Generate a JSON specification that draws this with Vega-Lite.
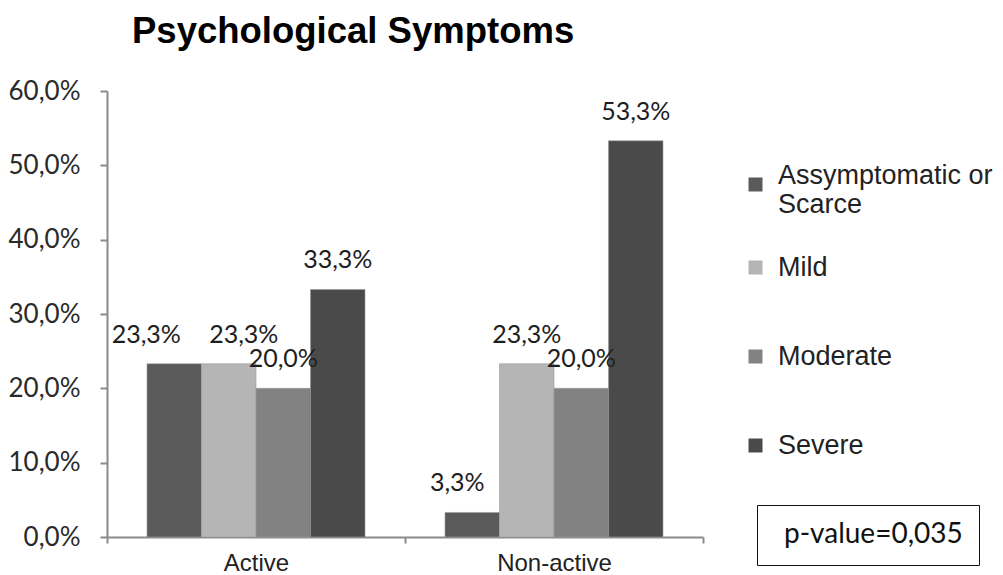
{
  "$schema": "https://vega.github.io/schema/vega-lite/v6.json",
  "width": 596,
  "height": 446,
  "autosize": {"type": "none"},
  "padding": {"left": 107, "top": 91, "right": 300, "bottom": 38},
  "background": "white",
  "title": {
    "text": "Psychological Symptoms",
    "anchor": "start",
    "frame": "group",
    "dx": 25,
    "offset": 28,
    "font": "Liberation Sans",
    "fontSize": 36.5,
    "fontWeight": "bold",
    "color": "black"
  },
  "datasets": {
    "bars": [
      {"group": "Active", "symptom": "Assymptomatic or Scarce", "pct": 0.233},
      {"group": "Active", "symptom": "Mild", "pct": 0.233},
      {"group": "Active", "symptom": "Moderate", "pct": 0.2},
      {"group": "Active", "symptom": "Severe", "pct": 0.333},
      {"group": "Non-active", "symptom": "Assymptomatic or Scarce", "pct": 0.033},
      {"group": "Non-active", "symptom": "Mild", "pct": 0.233},
      {"group": "Non-active", "symptom": "Moderate", "pct": 0.2},
      {"group": "Non-active", "symptom": "Severe", "pct": 0.533}
    ],
    "stats": [{"note": "p-value=0,035"}]
  },
  "layer": [
    {
      "data": {"name": "bars"},
      "mark": {"type": "bar", "stroke": "#9a9a9a", "strokeWidth": 0.6},
      "encoding": {
        "x": {
          "field": "group", "type": "nominal",
          "scale": {"paddingInner": 0, "paddingOuter": 0},
          "axis": {
            "title": null, "labelAngle": 0, "tickBand": "extent",
            "domainColor": "#8a8a8a", "domainWidth": 2, "tickColor": "#8a8a8a", "tickWidth": 2, "tickSize": 6,
            "labelFont": "Liberation Sans", "labelFontSize": 24, "labelColor": "#222222", "labelPadding": 8
          }
        },
        "xOffset": {
          "field": "symptom",
          "sort": ["Assymptomatic or Scarce", "Mild", "Moderate", "Severe"],
          "scale": {"paddingInner": 0, "paddingOuter": 0.734}
        },
        "y": {
          "field": "pct", "type": "quantitative",
          "scale": {"domain": [0, 0.6]},
          "axis": {
            "title": null, "format": ".1%", "values": [0, 0.1, 0.2, 0.3, 0.4, 0.5, 0.6], "grid": false,
            "domainColor": "#8a8a8a", "domainWidth": 2, "tickColor": "#8a8a8a", "tickWidth": 2, "tickSize": 7,
            "labelFont": "Lato", "labelFontSize": 26, "labelColor": "#2a2a2a", "labelPadding": 20
          }
        },
        "color": {
          "field": "symptom", "type": "nominal",
          "scale": {
            "domain": ["Assymptomatic or Scarce", "Mild", "Moderate", "Severe"],
            "range": ["#5a5a5a", "#b5b5b5", "#828282", "#4a4a4a"]
          },
          "legend": {
            "title": null, "orient": "none", "legendX": 635, "legendY": 163,
            "values": ["Mild", "Moderate", "Severe"],
            "symbolType": "square", "symbolSize": 196, "symbolStrokeWidth": 0,
            "labelFont": "Liberation Sans", "labelFontSize": 27, "labelColor": "#222222",
            "labelLimit": 400, "labelOffset": 9, "rowPadding": 61, "padding": 0
          }
        }
      }
    },
    {
      "data": {"name": "bars"},
      "transform": [{"filter": "datum.symptom == 'Assymptomatic or Scarce'"}],
      "mark": {"type": "point", "opacity": 0, "filled": true},
      "encoding": {
        "fill": {
          "field": "symptom", "type": "nominal",
          "scale": {"domain": ["Assymptomatic or Scarce"], "range": ["#5a5a5a"]},
          "legend": {
            "title": null, "orient": "none", "legendX": 635, "legendY": 80,
            "symbolType": "square", "symbolSize": 196, "symbolStrokeWidth": 0, "symbolOpacity": 1,
            "labelFont": "Liberation Sans", "labelFontSize": 27, "labelColor": "#222222",
            "labelLimit": 400, "labelOffset": 9, "padding": 0,
            "labelExpr": "['Assymptomatic or', 'Scarce']",
            "encode": {"labels": {"update": {"dy": {"value": -9}}}}
          }
        }
      }
    },
    {
      "data": {"name": "bars"},
      "mark": {
        "type": "text", "baseline": "alphabetic", "dy": -21,
        "dx": {"expr": "datum.symptom == 'Assymptomatic or Scarce' ? (datum.group == 'Active' ? -28 : -15) : (datum.symptom == 'Mild' && datum.group == 'Active' ? 15 : 0)"},
        "font": "Lato", "fontSize": 25, "color": "#1e1e1e"
      },
      "encoding": {
        "x": {"field": "group", "type": "nominal"},
        "xOffset": {"field": "symptom", "sort": ["Assymptomatic or Scarce", "Mild", "Moderate", "Severe"]},
        "y": {"field": "pct", "type": "quantitative"},
        "text": {"field": "pct", "type": "quantitative", "format": ".1%"}
      }
    },
    {
      "data": {"name": "stats"},
      "mark": {"type": "point", "opacity": 0},
      "encoding": {
        "shape": {
          "field": "note", "type": "nominal",
          "legend": {
            "title": null, "orient": "none", "legendX": 650, "legendY": 414,
            "strokeColor": "#111111", "padding": 16,
            "symbolSize": 0, "symbolOpacity": 0, "labelOffset": -17,
            "labelFont": "Lato", "labelFontSize": 28, "labelColor": "#111111", "labelLimit": 400,
            "encode": {"legend": {"update": {"strokeWidth": {"value": 2}}}}
          }
        }
      }
    }
  ],
  "config": {
    "view": {"stroke": null},
    "locale": {"number": {"decimal": ",", "thousands": ".", "grouping": [3], "currency": ["", " €"]}}
  }
}
